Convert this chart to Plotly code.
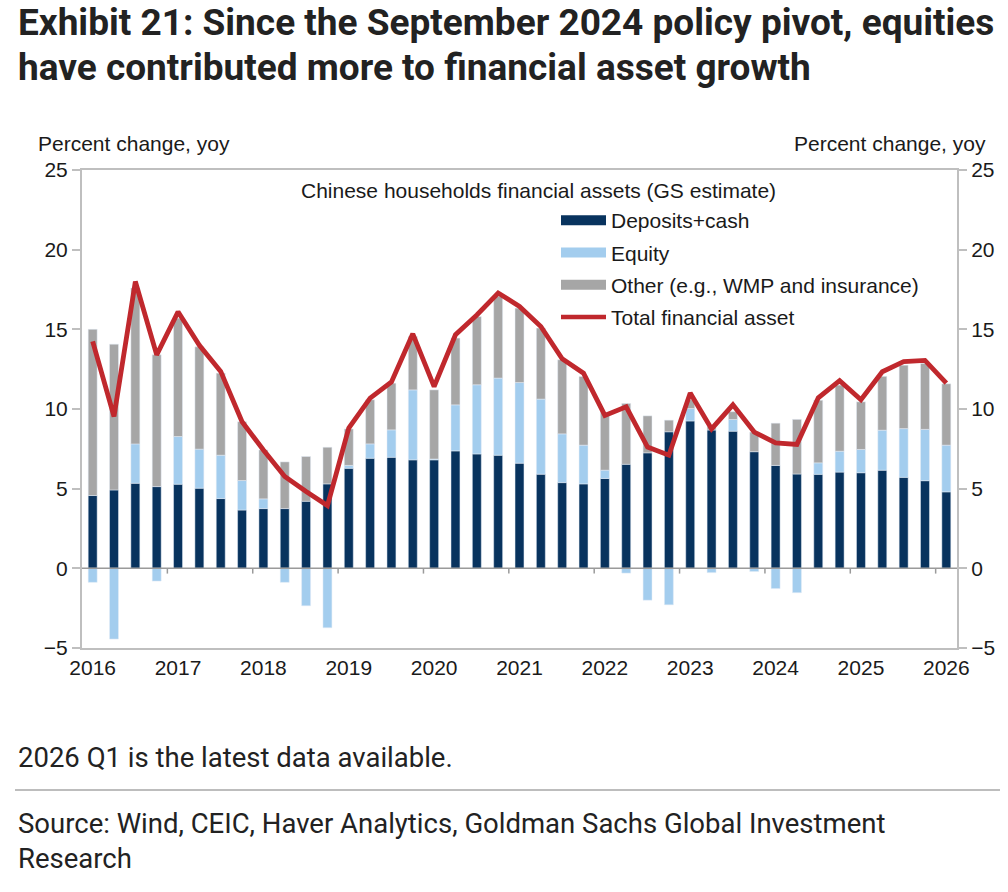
import plotly.graph_objects as go

quarters = [f"{y}Q{q}" for y in range(2016, 2027) for q in range(1, 5)][:41]
year_labels = ["2016", "2017", "2018", "2019", "2020", "2021", "2022", "2023", "2024", "2025", "2026"]

deposits = [4.57, 4.92, 5.34, 5.13, 5.28, 5.03, 4.38, 3.66, 3.75, 3.75, 4.21, 5.30, 6.28, 6.91, 6.97,
            6.81, 6.81, 7.37, 7.18, 7.10, 6.60, 5.91, 5.38, 5.30, 5.64, 6.53, 7.25, 8.57, 9.25, 8.68,
            8.61, 7.32, 6.46, 5.92, 5.90, 6.04, 6.00, 6.16, 5.71, 5.50, 4.80]
equity = [-0.88, -4.44, 2.47, -0.80, 2.99, 2.45, 2.72, 1.85, 0.61, -0.88, -2.35, -3.73, 0.18, 0.90, 1.72,
          4.39, 0.05, 2.89, 4.34, 4.84, 5.06, 4.71, 3.06, 2.43, 0.52, -0.30, -2.00, -2.29, 0.78, -0.27,
          0.73, -0.20, -1.27, -1.53, 0.72, 1.31, 1.46, 2.51, 3.06, 3.22, 2.93]
other = [10.43, 9.15, 9.79, 8.27, 7.43, 6.42, 5.15, 3.69, 3.07, 2.93, 2.81, 2.30, 2.29, 2.77, 2.93,
         3.35, 4.34, 4.19, 4.28, 5.13, 4.67, 4.46, 4.65, 4.31, 3.64, 3.82, 2.32, 0.73, 0.55, 0.22,
         0.49, 1.23, 2.65, 3.43, 3.93, 4.15, 2.99, 3.38, 3.98, 4.14, 3.85]
total = [14.24, 9.53, 18.0, 13.4, 16.1, 14.0, 12.36, 9.2, 7.43, 5.76, 4.82, 3.94, 8.8, 10.68, 11.7,
         14.72, 11.41, 14.66, 15.9, 17.28, 16.44, 15.18, 13.15, 12.25, 9.6, 10.14, 7.61, 7.1, 11.0, 8.75,
         10.26, 8.55, 7.88, 7.78, 10.7, 11.78, 10.58, 12.34, 12.97, 13.05, 11.63]

NAVY = "#08335e"
LIGHT = "#a3cdee"
GRAY = "#a6a6a6"
RED = "#c0282d"
AXIS = "#bfbfbf"
FONT = "Liberation Sans, Arial, sans-serif"
HEAD = "Roboto, Liberation Sans, sans-serif"
FS = 21

W, H = 1008, 892
L, R, T, B = 82, 957, 170, 648


def px(xp):
    return (xp - L) / (R - L)


def py(yp):
    return (B - yp) / (B - T)


fig = go.Figure()
fig.add_bar(x=quarters, y=deposits, marker_color=NAVY, width=0.42, showlegend=False, name="Deposits+cash")
fig.add_bar(x=quarters, y=equity, marker_color=LIGHT, width=0.42, showlegend=False, name="Equity")
fig.add_bar(x=quarters, y=other, marker_color=GRAY, width=0.42, showlegend=False,
            name="Other (e.g., WMP and insurance)")
fig.add_scatter(x=quarters, y=total, mode="lines", line=dict(color=RED, width=4.8),
                showlegend=False, yaxis="y2", name="Total financial asset")

# legend entries
for k, (nm, col, wd) in enumerate([("Deposits+cash", NAVY, 11), ("Equity", LIGHT, 11),
                                   ("Other (e.g., WMP and insurance)", GRAY, 11),
                                   ("Total financial asset", RED, 4.5)]):
    fig.add_scatter(x=[None], y=[None], mode="lines", line=dict(color=col, width=wd), name=nm,
                    legendgroup=f"g{k}")

# small year tick marks on the zero line
for i in range(4, 41, 4):
    fig.add_shape(type="line", xref="x", yref="y", x0=i - 0.5, x1=i - 0.5, y0=0, y1=-0.33,
                  line=dict(color="#9a9a9a", width=1.5))

yax = dict(range=[-5, 25], tickvals=[-5, 0, 5, 10, 15, 20, 25], showgrid=False, zeroline=False,
           ticks="outside", ticklen=8, tickcolor=AXIS, tickwidth=1.5, showline=True, linecolor=AXIS,
           linewidth=2, tickfont=dict(family=FONT, size=FS, color="#1a1a1a"))
fig.update_layout(
    width=W, height=H,
    margin=dict(l=L, r=W - R, t=T, b=H - B),
    paper_bgcolor="white", plot_bgcolor="white",
    barmode="relative", bargap=0.58,
    xaxis=dict(type="category", range=[-0.5, 40.5], tickvals=quarters[::4], ticktext=year_labels,
               ticks="", showgrid=False, zeroline=False, showline=True, linecolor=AXIS, linewidth=2,
               mirror=True, tickfont=dict(family=FONT, size=FS, color="#1a1a1a")),
    yaxis=yax,
    yaxis2=dict(yax, overlaying="y", side="right", showline=True),
    legend=dict(x=px(556), y=py(200), xanchor="left", yanchor="top", bgcolor="rgba(0,0,0,0)",
                font=dict(family=FONT, size=FS, color="#1a1a1a"), itemwidth=45, tracegroupgap=2),
    shapes=list(fig.layout.shapes) + [
        dict(type="line", xref="paper", yref="y", x0=0, x1=1, y0=0, y1=0,
             line=dict(color="#9a9a9a", width=1.5), layer="above"),
        dict(type="line", xref="paper", yref="paper", x0=px(15), x1=px(1000), y0=py(790), y1=py(790),
             line=dict(color="#bdbdbd", width=2)),
    ],
)

ann = [
    dict(text="<b>Exhibit 21: Since the September 2024 policy pivot, equities</b>", x=px(16), y=py(23),
         xanchor="left", yanchor="middle", font=dict(family=HEAD, size=37, color="#222")),
    dict(text="<b>have contributed more to financial asset growth</b>", x=px(16), y=py(67),
         xanchor="left", yanchor="middle", font=dict(family=HEAD, size=37, color="#222")),
    dict(text="Percent change, yoy", x=px(36), y=py(144), xanchor="left", yanchor="middle",
         font=dict(family=FONT, size=FS, color="#1a1a1a")),
    dict(text="Percent change, yoy", x=px(988), y=py(144), xanchor="right", yanchor="middle",
         font=dict(family=FONT, size=FS, color="#1a1a1a")),
    dict(text="Chinese households financial assets (GS estimate)", x=px(299), y=py(190),
         xanchor="left", yanchor="middle", font=dict(family=FONT, size=FS, color="#1a1a1a")),
    dict(text="2026 Q1 is the latest data available.", x=px(16), y=py(757), xanchor="left",
         yanchor="middle", font=dict(family=HEAD, size=27.5, color="#222")),
    dict(text="Source: Wind, CEIC, Haver Analytics, Goldman Sachs Global Investment", x=px(16), y=py(823),
         xanchor="left", yanchor="middle", font=dict(family=HEAD, size=27.5, color="#222")),
    dict(text="Research", x=px(16), y=py(858), xanchor="left", yanchor="middle",
         font=dict(family=HEAD, size=27.5, color="#222")),
]
for a in ann:
    a.update(xref="paper", yref="paper", showarrow=False)
fig.update_layout(annotations=ann)

fig.write_html("out.html")
